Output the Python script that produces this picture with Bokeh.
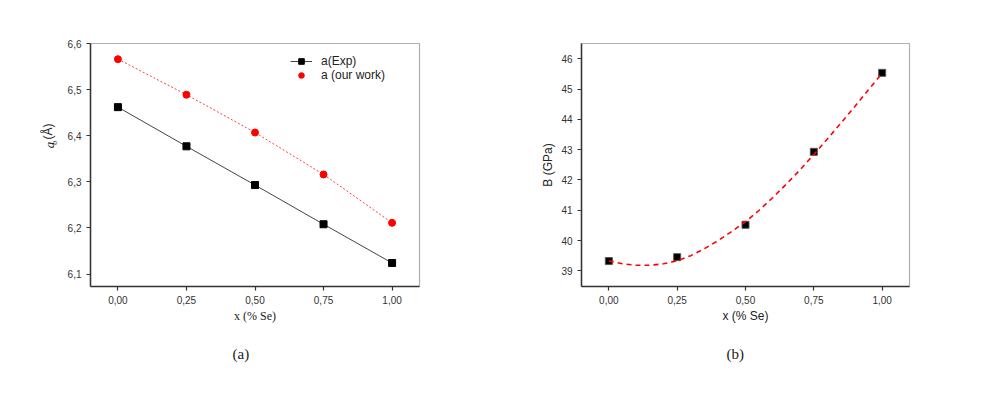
from bokeh.plotting import figure
from bokeh.layouts import row
from bokeh.models import FixedTicker, Range1d, Legend, Title
from bokeh.core.properties import value
from bokeh.embed import file_html
from bokeh.resources import INLINE
import math

# ---------- data ----------
x_se = [0.0, 0.25, 0.5, 0.75, 1.0]
a_exp = [6.462, 6.377, 6.293, 6.208, 6.124]
a_ours = [6.566, 6.489, 6.407, 6.316, 6.211]
b_gpa = [39.32, 39.45, 40.52, 42.93, 45.54]

# fitted (dashed) curve of panel (b)
fit_x = [0.0, 0.05, 0.10, 0.15, 0.20, 0.25, 0.30, 0.35, 0.40, 0.45, 0.50,
         0.55, 0.60, 0.65, 0.70, 0.75, 0.80, 0.85, 0.90, 0.95, 1.00]
fit_b = [39.32, 39.23, 39.18, 39.18, 39.23, 39.33, 39.50, 39.73, 40.00, 40.30, 40.62,
         41.00, 41.42, 41.87, 42.34, 42.84, 43.36, 43.89, 44.43, 44.98, 45.53]

x_ticks = [0.0, 0.25, 0.5, 0.75, 1.0]
x_tick_labels = ["0,00", "0,25", "0,50", "0,75", "1,00"]
a_ticks = [6.1, 6.2, 6.3, 6.4, 6.5, 6.6]
a_tick_labels = ["6,1", "6,2", "6,3", "6,4", "6,5", "6,6"]
b_ticks = [39, 40, 41, 42, 43, 44, 45, 46]
b_tick_labels = ["39", "40", "41", "42", "43", "44", "45", "46"]

SANS = "Liberation Sans"
SERIF = "Liberation Serif"
H = 385


def style_axes(p, xt, xl, yt, yl):
    p.xgrid.visible = False
    p.ygrid.visible = False
    p.outline_line_color = "#b0b0b0"
    p.outline_line_width = 1.2
    for ax in (p.xaxis[0], p.yaxis[0]):
        ax.axis_line_color = "#333333"
        ax.axis_line_width = 1.5
        ax.major_tick_line_color = "#333333"
        ax.major_tick_line_width = 1.2
        ax.major_tick_out = 4
        ax.major_tick_in = 0
        ax.minor_tick_line_color = None
        ax.major_label_text_font = SANS
        ax.major_label_text_font_size = "10px"
        ax.major_label_text_color = "#333333"
        ax.axis_label_text_font_style = "normal"
        ax.axis_label_text_color = "#222222"
    p.xaxis[0].ticker = FixedTicker(ticks=xt)
    p.xaxis[0].major_label_overrides = {t: s for t, s in zip(xt, xl)}
    p.yaxis[0].ticker = FixedTicker(ticks=yt)
    p.yaxis[0].major_label_overrides = {t: s for t, s in zip(yt, yl)}


def caption(p, text, offset):
    t = Title(text=text, align="left", offset=offset, standoff=36,
              vertical_align="bottom",
              text_font=SERIF, text_font_size="15px", text_font_style="normal",
              text_color="#222222")
    p.add_layout(t, "below")


# ---------- y-axis title of panel (a): a_o (Å), drawn in a narrow strip ----------
LW = 60
pl = figure(width=LW, height=H, output_backend="svg", toolbar_location=None,
            x_range=Range1d(0, LW), y_range=Range1d(0, H),
            min_border=0, outline_line_color=None, x_axis_location=None,
            y_axis_location=None)
pl.xgrid.visible = False
pl.ygrid.visible = False
# anchors at the lower end of each rotated string (text reads bottom -> top)
pl.text(x=[47.5], y=[H - 152], text=["(Å)"], angle=math.pi / 2,
        text_align="left", text_baseline="middle", text_font=value(SANS),
        text_font_size="12px", text_color="#222222")
pl.text(x=[48.5], y=[H - 166], text=["a"], angle=math.pi / 2,
        text_align="left", text_baseline="middle", text_font=value(SERIF),
        text_font_style="italic", text_font_size="13px", text_color="#222222")
pl.text(x=[53.5], y=[H - 160.5], text=["o"], angle=math.pi / 2,
        text_align="left", text_baseline="middle", text_font=value(SERIF),
        text_font_style="italic", text_font_size="8px", text_color="#222222")

# ---------- panel (a) ----------
p1 = figure(width=498 - LW, height=H, output_backend="svg", toolbar_location=None,
            x_range=Range1d(-0.1, 1.1), y_range=Range1d(6.073, 6.6),
            min_border_left=90 - LW, min_border_right=79, min_border_top=43,
            min_border_bottom=99)
style_axes(p1, x_ticks, x_tick_labels, a_ticks, a_tick_labels)
p1.xaxis[0].axis_label = "x (% Se)"
p1.xaxis[0].axis_label_text_font = SERIF
p1.xaxis[0].axis_label_text_font_size = "12px"
p1.xaxis[0].axis_label_standoff = 2

l1 = p1.line(x_se, a_exp, line_color="#444444", line_width=1)
s1 = p1.scatter(x_se, a_exp, marker="square", size=7, fill_color="black",
                line_color="black")
l2 = p1.line(x_se, a_ours, line_color="#ff4040", line_width=1, line_dash="2 2")
s2 = p1.scatter(x_se, a_ours, marker="circle", size=7, fill_color="#ff0000",
                line_color="#ff0000")

legend = Legend(items=[("a(Exp)", [l1, s1]), ("a (our work)", [s2])],
                location=(200, 204), padding=0, margin=0, spacing=0,
                label_height=14, glyph_height=14, glyph_width=22,
                label_standoff=9, border_line_color=None,
                background_fill_alpha=0, label_text_font=SANS,
                label_text_font_size="12px", label_text_color="#222222")
p1.add_layout(legend, "center")
caption(p1, "(a)", 142)

# ---------- panel (b) ----------
p2 = figure(width=475, height=H, output_backend="svg", toolbar_location=None,
            x_range=Range1d(-0.1, 1.1), y_range=Range1d(38.48, 46.51),
            min_border_left=83, min_border_right=64, min_border_top=43,
            min_border_bottom=99)
style_axes(p2, x_ticks, x_tick_labels, b_ticks, b_tick_labels)
p2.xaxis[0].axis_label = "x (% Se)"
p2.xaxis[0].axis_label_text_font = SANS
p2.xaxis[0].axis_label_text_font_size = "12px"
p2.xaxis[0].axis_label_standoff = 2
p2.yaxis[0].axis_label = "B (GPa)"
p2.yaxis[0].axis_label_text_font = SANS
p2.yaxis[0].axis_label_text_font_size = "12px"
p2.yaxis[0].axis_label_standoff = 3

p2.scatter(x_se, b_gpa, marker="square", size=7, fill_color="black",
           line_color="#555555")
p2.line(fit_x, fit_b, line_color="#ff0000", line_width=1.6, line_dash="5 4")
caption(p2, "(b)", 145)

layout = row(pl, p1, p2)
open("out.html", "w").write(file_html(layout, INLINE))
